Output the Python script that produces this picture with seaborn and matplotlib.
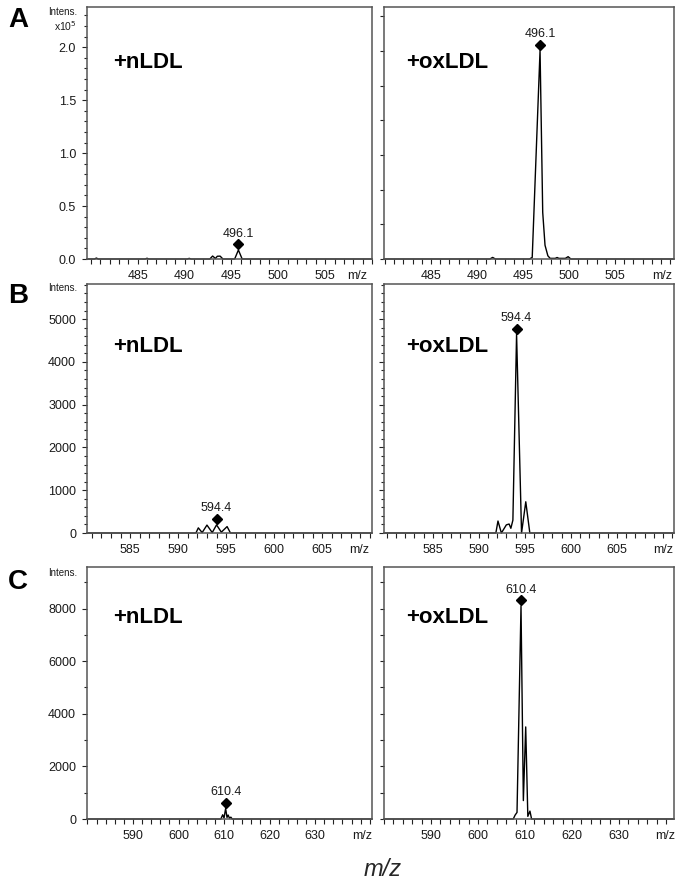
import numpy as np
import pandas as pd
import matplotlib
matplotlib.use("Agg")
import matplotlib.pyplot as plt
import matplotlib.ticker as mt
import matplotlib.transforms as mtrans
import seaborn as sns

# ---------------- data ----------------
# Row A (m/z ~496)
A_n_mz = [479.6, 480.4, 480.6, 480.8, 485.8, 486.0, 486.2, 490.3, 490.5, 490.7,
          492.7, 493.0, 493.3, 493.5, 493.8, 494.1, 495.35, 495.75, 496.15, 510.0]
A_n_int = [0, 0, 900, 0, 0, 700, 0, 0, 600, 0,
           0, 2800, 500, 2600, 2700, 0, 0, 8500, 0, 0]
A_ox_mz = [479.9, 491.4, 491.7, 492.0, 495.7, 496.0, 496.85, 497.14, 497.39, 497.7,
           497.95, 498.5, 498.7, 498.9, 499.6, 499.9, 500.2, 511.4]
A_ox_int = [0, 0, 1500, 0, 0, 1500, 197000, 44000, 13000, 3000,
            600, 600, 1400, 600, 600, 2200, 0, 0]

# Row B (m/z ~594)
B_n_mz = [580.5, 591.85, 592.1, 592.5, 593.0, 593.55, 594.0, 594.5, 595.1, 595.45, 610.2]
B_n_int = [0, 0, 120, 10, 185, 10, 190, 20, 150, 0, 0]
B_ox_mz = [579.7, 591.85, 592.08, 592.45, 592.99, 593.29, 593.48, 593.7, 594.1, 594.64,
           595.1, 595.54, 611.2]
B_ox_int = [0, 0, 280, 0, 190, 210, 110, 300, 4650, 0,
            730, 0, 0]

# Row C (m/z ~610)
C_n_mz = [579.9, 609.3, 609.7, 610.0, 610.35, 610.65, 610.9, 611.2, 611.5, 611.8, 642.5]
C_n_int = [0, 0, 160, 40, 400, 60, 150, 30, 70, 0, 0]
C_ox_mz = [580.0, 607.5, 607.9, 608.3, 609.15, 609.65, 610.15, 610.6, 611.05, 611.4, 641.7]
C_ox_int = [0, 0, 150, 250, 8100, 700, 3500, 100, 300, 0, 0]

peak_labels = ["496.1", "594.4", "610.4"]
row_letters = ["A", "B", "C"]
sample_labels = ["+nLDL", "+oxLDL"]

A_xticks = [485, 490, 495, 500, 505]
B_xticks = [585, 590, 595, 600, 605]
C_xticks = [590, 600, 610, 620, 630]
A_yticks = [0, 50000, 100000, 150000, 200000]
A_ytick_labels = ["0.0", "0.5", "1.0", "1.5", "2.0"]
B_yticks = [0, 1000, 2000, 3000, 4000, 5000]
C_yticks = [0, 2000, 4000, 6000, 8000]

# ---------------- style ----------------
sns.set_style("ticks")
plt.rcParams['font.family'] = ['Liberation Sans', 'DejaVu Sans']
SPINE = '#555555'
TXT = '#1a1a1a'

W, H = 683, 886
fig = plt.figure(figsize=(W / 100, H / 100), dpi=100)


def add_ax(x0, x1, y0, y1):
    return fig.add_axes([x0 / W, 1 - y1 / H, (x1 - x0) / W, (y1 - y0) / H])


rows = [
    dict(top=7, bot=259, ylim=238000,
         left=dict(mz=A_n_mz, it=A_n_int, xlim=(479.6, 510.0), mzx=0.947),
         right=dict(mz=A_ox_mz, it=A_ox_int, xlim=(479.9, 511.4), mzx=0.959),
         xticks=A_xticks, xminor=1, yticks=A_yticks, ylabels=A_ytick_labels,
         yminor=10000, rmajor=32750, rminor=None, lab_y=0.78),
    dict(top=284, bot=533, ylim=5820,
         left=dict(mz=B_n_mz, it=B_n_int, xlim=(580.5, 610.2), mzx=0.954),
         right=dict(mz=B_ox_mz, it=B_ox_int, xlim=(579.7, 611.2), mzx=0.962),
         xticks=B_xticks, xminor=1, yticks=B_yticks, ylabels=[str(v) for v in B_yticks],
         yminor=200, rmajor=1000, rminor=200, lab_y=0.75),
    dict(top=567, bot=819, ylim=9580,
         left=dict(mz=C_n_mz, it=C_n_int, xlim=(579.9, 642.5), mzx=0.966),
         right=dict(mz=C_ox_mz, it=C_ox_int, xlim=(580.0, 641.7), mzx=0.969),
         xticks=C_xticks, xminor=2, yticks=C_yticks, ylabels=[str(v) for v in C_yticks],
         yminor=1000, rmajor=1000, rminor=None, lab_y=0.80),
]

TL = 3.6   # tick length (pt)
TP = 4.3   # tick label pad (pt)

for r, row in enumerate(rows):
    for side, (x0, x1) in zip(["left", "right"], [(87, 372), (384, 674)]):
        p = row[side]
        ax = add_ax(x0, x1, row['top'], row['bot'])
        df = pd.DataFrame({"mz": p['mz'], "intensity": p['it']})
        sns.lineplot(data=df, x="mz", y="intensity", ax=ax, color='black',
                     linewidth=1.0, estimator=None, sort=False, clip_on=False)
        ax.set_xlim(*p['xlim'])
        ax.set_ylim(0, row['ylim'])
        ax.set_xlabel("")
        ax.set_ylabel("")
        for s in ax.spines.values():
            s.set_color(SPINE)
            s.set_linewidth(1.1)

        # x axis
        ax.xaxis.set_major_locator(mt.FixedLocator(row['xticks']))
        ax.xaxis.set_major_formatter(mt.FixedFormatter([str(v) for v in row['xticks']]))
        ax.xaxis.set_minor_locator(mt.MultipleLocator(row['xminor']))
        ax.tick_params(axis='x', which='both', direction='out', length=TL, width=0.8,
                       color='#222', labelsize=9, pad=TP, labelcolor=TXT)
        ax.annotate("m/z", (p['mzx'], 0), xycoords='axes fraction',
                    xytext=(0, -(TL + TP)), textcoords='offset points',
                    ha='center', va='top', fontsize=9, color=TXT)

        # y axis
        if side == "left":
            ax.yaxis.set_major_locator(mt.FixedLocator(row['yticks']))
            ax.yaxis.set_major_formatter(mt.FixedFormatter(row['ylabels']))
            ax.yaxis.set_minor_locator(mt.MultipleLocator(row['yminor']))
            ax.tick_params(axis='y', which='major', direction='out', length=TL, width=0.8,
                           color='#222', labelsize=9, pad=TP, labelcolor=TXT)
            ax.tick_params(axis='y', which='minor', direction='out', length=2.3, width=0.8,
                           color='#222')
            ax.text(-0.035, 0.982 if r != 2 else 0.976, "Intens.", transform=ax.transAxes,
                    ha='right', va='center', fontsize=7, color=TXT)
            if r == 0:
                ax.text(-0.035, 0.925, r"x10$^5$", transform=ax.transAxes,
                        ha='right', va='center', fontsize=7.5, color=TXT)
            fig.text(8 / W, 1 - [20, 296, 582][r] / H, row_letters[r], fontsize=20,
                     fontweight='bold', ha='left', va='center', color='black')
        else:
            ax.yaxis.set_major_locator(mt.MultipleLocator(row['rmajor']))
            ax.yaxis.set_major_formatter(mt.NullFormatter())
            ax.tick_params(axis='y', which='major', direction='out',
                           length=TL if row['rminor'] else 2.8, width=0.8, color='#222')
            if row['rminor']:
                ax.yaxis.set_minor_locator(mt.MultipleLocator(row['rminor']))
                ax.tick_params(axis='y', which='minor', direction='out', length=2.3,
                               width=0.8, color='#222')

        # sample label
        ax.text(0.09 if side == "left" else 0.076, row['lab_y'],
                sample_labels[0 if side == "left" else 1], transform=ax.transAxes,
                ha='left', va='center', fontsize=16, fontweight='bold', color='black')

        # peak marker + label
        k = int(np.argmax(p['it']))
        px, py = p['mz'][k], p['it'][k]
        tr = mtrans.offset_copy(ax.transData, fig=fig, x=0, y=4, units='points')
        ax.plot([px], [py], marker='D', markersize=5.5, color='black', transform=tr,
                clip_on=False, linestyle='none')
        ax.annotate(peak_labels[r], (px, py), xytext=(0, 7.5), textcoords='offset points',
                    ha='center', va='bottom', fontsize=9, color=TXT)

fig.text(383 / W, 1 - 870 / H, "m/z", fontsize=17, fontstyle='italic',
         ha='center', va='center')

fig.savefig("out.png", dpi=100)
